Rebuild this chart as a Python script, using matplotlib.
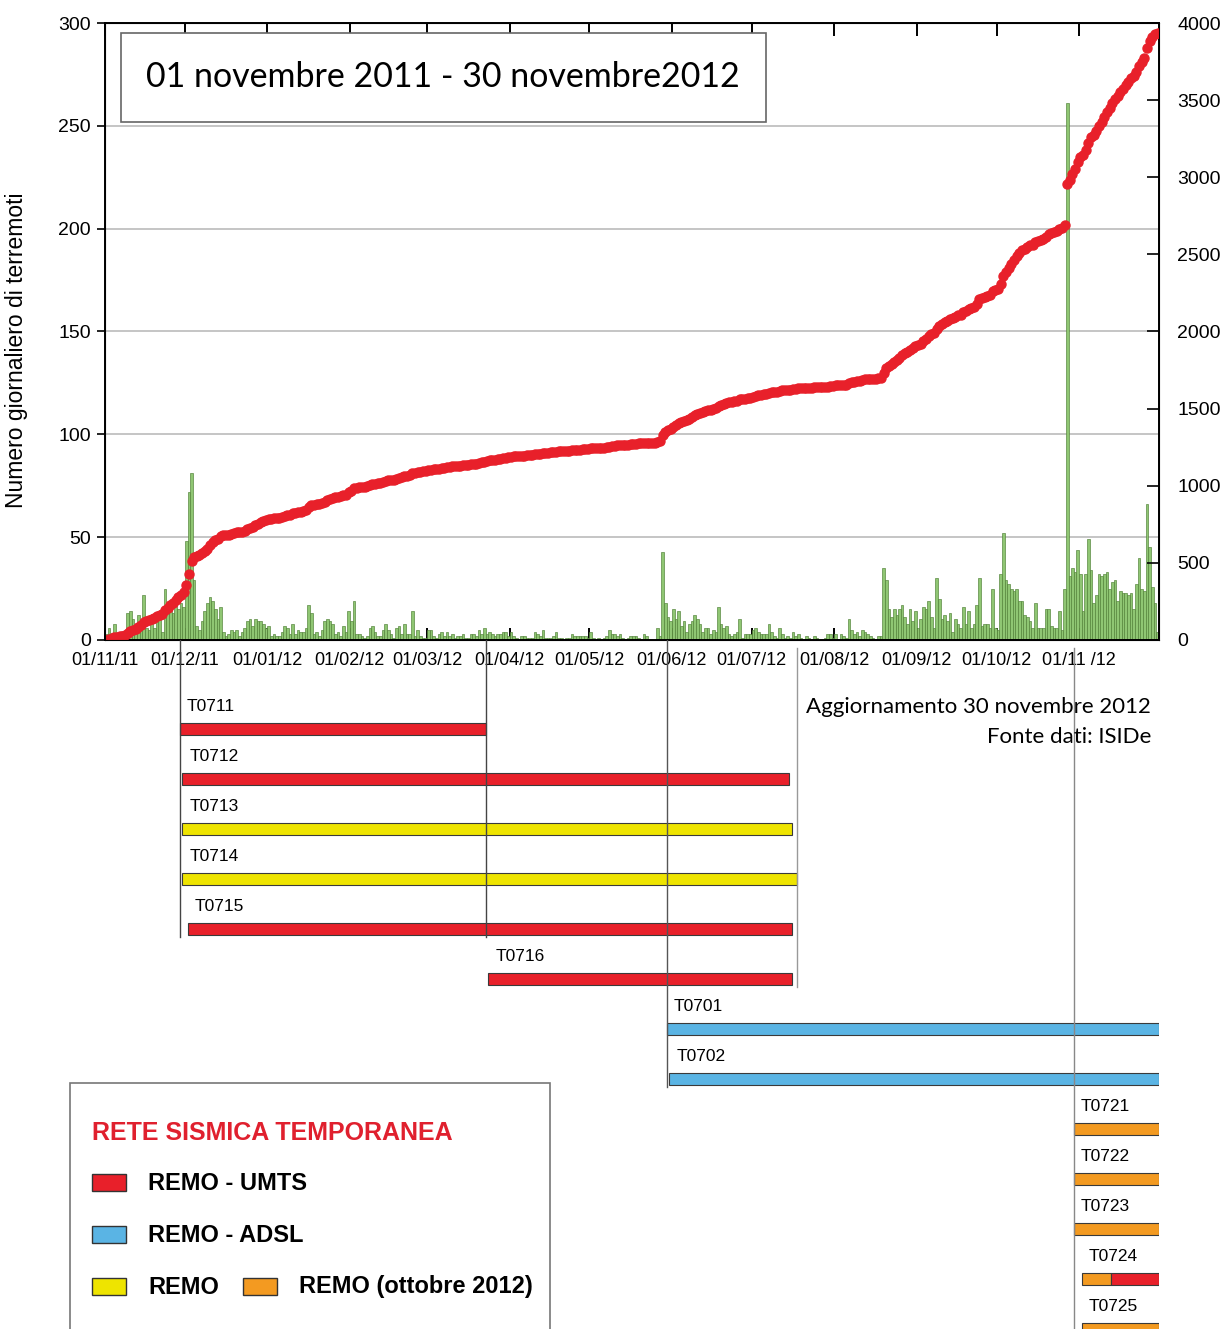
import numpy as np
import pandas as pd
import matplotlib
matplotlib.use('Agg')
import matplotlib.pyplot as plt
from matplotlib.patches import Rectangle

plt.rcParams['font.family'] = ['Liberation Sans', 'DejaVu Sans']

start = pd.Timestamp('2011-11-01')

# numero giornaliero di terremoti, un valore per giorno a partire dal 01/11/2011
counts_a = [3, 6, 2, 8, 2, 2, 3, 4, 13, 14,
            10, 7, 12, 9, 22, 6, 5, 9, 6, 10,
            11, 4, 25, 16, 18, 13, 21, 15, 18, 16,
            48, 72, 81, 29, 7, 5, 9, 14, 18, 21,
            19, 15, 10, 16, 4, 2, 3, 5, 4, 5,
            2, 4, 6, 9, 10, 7, 10, 9, 9, 8,
            6, 7, 2, 3, 2, 2, 4, 7, 6, 3,
            8, 3, 5, 4, 4, 6, 17, 13, 3, 4,
            2, 5, 9, 10, 9, 8, 3, 4, 2, 7,
            4, 14, 9, 19, 3, 3, 2, 1, 2, 6]
counts_b = [7, 4, 2, 2, 5, 8, 5, 3, 1, 6,
            7, 3, 8, 3, 3, 14, 2, 5, 2, 1,
            1, 5, 5, 2, 1, 3, 4, 2, 4, 2,
            3, 1, 2, 2, 3, 1, 1, 3, 3, 2,
            5, 3, 6, 3, 4, 3, 2, 3, 3, 4,
            4, 2, 4, 2, 1, 0, 2, 2, 1, 1,
            1, 4, 3, 2, 5, 1, 1, 1, 2, 4,
            1, 1, 0, 1, 1, 3, 2, 2, 2, 2,
            2, 1, 4, 1, 0, 1, 0, 1, 2, 5,
            3, 3, 2, 3, 1, 0, 1, 2]
counts_c = [2, 2, 1, 0, 3, 2, 0, 0, 0, 6,
            2, 43, 18, 11, 9, 15, 10, 14, 7, 9,
            4, 8, 9, 12, 10, 8, 4, 6, 6, 3,
            5, 4, 16, 8, 6, 7, 3, 2, 3, 4,
            10, 1, 3, 3, 3, 5, 6, 4, 3, 3,
            3, 8, 4, 2, 1, 6, 3, 1, 2, 1,
            4, 2, 3, 1, 0, 2, 1, 0, 2, 1,
            0, 0, 1, 3, 3, 1, 3, 0, 3, 2,
            1, 10, 5, 3, 4, 2, 5, 4, 3, 2,
            1, 0, 2, 2, 35, 29, 15, 11, 15]
counts_d = [12, 15, 17, 11, 8, 15, 9, 14, 6, 10, 16,
            15, 19, 11, 6, 30, 20, 10, 12, 9, 13,
            4, 10, 8, 6, 16, 8, 14, 6, 8, 17,
            30, 7, 8, 8, 6, 25, 6, 5, 32, 52,
            29, 27, 25, 24, 25, 19, 19, 12, 11, 9,
            6, 18, 6, 6, 6, 15, 15, 7, 6, 6,
            14, 5, 25, 261, 31, 35, 33, 44, 32, 14,
            32, 49, 34, 18, 22, 32, 31, 32, 33, 25,
            28, 29, 19, 24, 23, 23, 22, 23, 15, 27,
            40, 25, 24, 66, 45, 26, 18, 4]

month_labels = ['01/11/11', '01/12/11', '01/01/12', '01/02/12', '01/03/12', '01/04/12',
                '01/05/12', '01/06/12', '01/07/12', '01/08/12', '01/09/12', '01/10/12', '01/11 /12']

# stazioni della rete temporanea (una riga per stazione, T0724 ha due periodi)
stations = ['T0711', 'T0712', 'T0713', 'T0714', 'T0715', 'T0716', 'T0701',
            'T0702', 'T0721', 'T0722', 'T0723', 'T0724', 'T0725']
seg_station = ['T0711', 'T0712', 'T0713', 'T0714', 'T0715', 'T0716', 'T0701',
               'T0702', 'T0721', 'T0722', 'T0723', 'T0724', 'T0724', 'T0725']
seg_start = ['2011-11-29', '2011-11-30', '2011-11-30', '2011-11-30', '2011-12-02', '2012-03-24',
             '2012-05-30', '2012-05-31', '2012-10-30', '2012-10-30', '2012-10-30', '2012-11-02',
             '2012-11-13', '2012-11-02']
seg_end = ['2012-03-23', '2012-07-15', '2012-07-16', '2012-07-18', '2012-07-16', '2012-07-16',
           '2012-12-01', '2012-12-01', '2012-12-01', '2012-12-01', '2012-12-01', '2012-11-13',
           '2012-12-01', '2012-12-01']
seg_type = ['UMTS', 'UMTS', 'REMO', 'REMO', 'UMTS', 'UMTS', 'ADSL', 'ADSL',
            'OTT', 'OTT', 'OTT', 'OTT', 'UMTS', 'OTT']

type_colors = {'UMTS': '#e8202a', 'ADSL': '#5ab4e4', 'REMO': '#eee400', 'OTT': '#f39a21'}
legend_types = ['UMTS', 'ADSL', 'REMO', 'OTT']
legend_labels = ['REMO - UMTS', 'REMO - ADSL', 'REMO', 'REMO (ottobre 2012)']

counts = np.array(counts_a + counts_b + counts_c + counts_d)
days = np.arange(len(counts))
cumul = np.cumsum(counts)
n_days = (pd.Timestamp('2012-12-01') - start).days
month_days = (pd.date_range('2011-11-01', periods=13, freq='MS') - start).days


def to_day(s):
    return (pd.Timestamp(s) - start).days


W, H = 1226, 1329
fig = plt.figure(figsize=(W / 100, H / 100), dpi=100)


def fx(px):
    return px / W


def fy(py):
    return 1 - py / H


# grafico superiore
ax = fig.add_axes([fx(105), fy(640), fx(1159) - fx(105), fy(23) - fy(640)])
ax.bar(days, counts, width=1, align='edge', color='#8fc673', edgecolor='#4f7f35', linewidth=0.45)
ax.set_xlim(0, n_days)
ax.set_ylim(0, 300)
ax.set_yticks(range(0, 301, 50))
ax.yaxis.grid(True, color='#bbbbbb', lw=1.2)
ax.set_axisbelow(True)
ax.set_xticks(month_days)
ax.set_xticklabels(month_labels)
ax.tick_params(axis='x', direction='in', top=True, length=9, width=1.4, pad=9, labelsize=13)
ax.tick_params(axis='y', direction='out', length=6, width=1.2, labelsize=14, pad=4)
for s in ax.spines.values():
    s.set_linewidth(1.4)
ax.set_ylabel('Numero giornaliero di terremoti', fontsize=16.5)
ax.yaxis.set_label_coords(-0.073, 0.47)

ax2 = ax.twinx()
ax2.plot(days + 0.5, cumul, 'o', color='#e8202a', ms=6.5, mec='#e8202a')
ax2.set_ylim(0, 4000)
ax2.set_yticks(range(0, 4001, 500))
ax2.tick_params(axis='y', direction='in', length=9, width=1.2, labelsize=14, pad=13)

fig.add_artist(Rectangle((fx(121), fy(122)), fx(766) - fx(121), fy(33) - fy(122),
                         transform=fig.transFigure, fc='white', ec='#666666', lw=1.2))
fig.text(fx(443), fy(77), '01 novembre 2011 - 30 novembre2012', fontsize=24.5,
         family=['Lato', 'DejaVu Sans'], ha='center', va='center')

# periodi di funzionamento delle stazioni
gx = fig.add_axes([fx(105), 0, fx(1159) - fx(105), fy(640)])
gx.set_xlim(0, n_days)
gx.set_ylim((1329 - 729) / 50, (640 - 729) / 50)
gx.axis('off')

row = {name: i for i, name in enumerate(stations)}
labelled = set()
for name, s0, s1, t in zip(seg_station, seg_start, seg_end, seg_type):
    d0, d1 = to_day(s0), to_day(s1)
    gx.barh(row[name], d1 - d0, left=d0, height=0.25, color=type_colors[t],
            edgecolor='#3a3a3a', linewidth=0.8)
    if name not in labelled:
        labelled.add(name)
        gx.annotate(name, (d0, row[name]), xytext=(5, 16), textcoords='offset points',
                    fontsize=12.5, ha='left', va='center')

# linee guida verticali
guides = [(seg_start[0], 'T0715', '#444444', -1.78), (seg_end[0], 'T0715', '#444444', -1.78),
          (seg_start[6], 'T0702', '#555555', -1.78), (seg_end[3], 'T0716', '#999999', -1.62),
          (seg_start[8], 'T0725', '#888888', -1.62)]
for d, last, col, top in guides:
    gx.plot([to_day(d), to_day(d)], [top, row[last] + 0.15], color=col, lw=1)

fig.text(fx(1151), fy(707), 'Aggiornamento 30 novembre 2012', ha='right', va='center',
         fontsize=16, family=['Lato', 'DejaVu Sans'])
fig.text(fx(1151), fy(737), 'Fonte dati: ISIDe', ha='right', va='center',
         fontsize=16, family=['Lato', 'DejaVu Sans'])

# legenda
fig.add_artist(Rectangle((fx(70), fy(1345)), fx(550) - fx(70), fy(1083) - fy(1345),
                         transform=fig.transFigure, fc='white', ec='#777777', lw=1.2))
fig.text(fx(92), fy(1133), 'RETE SISMICA TEMPORANEA', color='#e0202e', fontsize=18,
         fontweight='bold', ha='left', va='center')
leg_pos = [(92, 1183), (92, 1235), (92, 1287), (243, 1287)]
for (px, py), t, lab in zip(leg_pos, legend_types, legend_labels):
    fig.add_artist(Rectangle((fx(px), fy(py + 8)), fx(34), 17 / H, transform=fig.transFigure,
                             fc=type_colors[t], ec='#333333', lw=1))
    fig.text(fx(px + 56), fy(py), lab, fontsize=17, fontweight='bold', ha='left', va='center')

fig.savefig('out.png', dpi=100)
